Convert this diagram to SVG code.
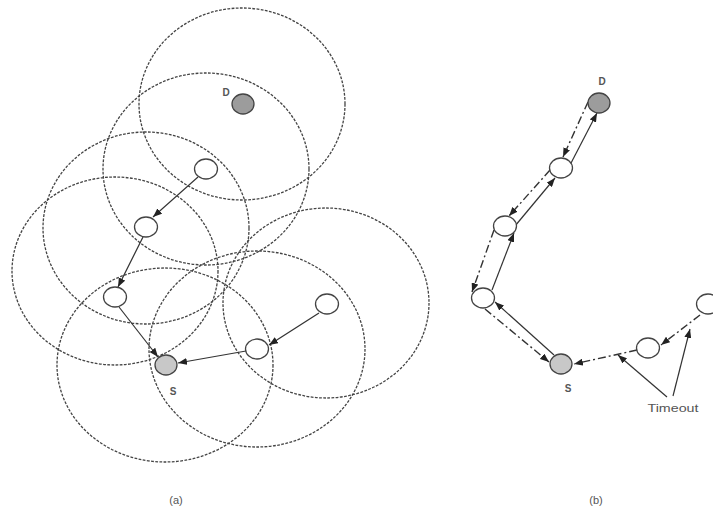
<svg xmlns="http://www.w3.org/2000/svg" width="713" height="508" viewBox="0 0 713 508">
<style>
.range{fill:none;stroke:#444;stroke-width:1.3;stroke-dasharray:2.8,1.4}
.node{fill:#fff;stroke:#444;stroke-width:1.3}
.dst{fill:#9c9c9c;stroke:#444;stroke-width:1.3}
.src{fill:#c8c8c8;stroke:#444;stroke-width:1.3}
.solid{fill:none;stroke:#333;stroke-width:1.2}
.dd{fill:none;stroke:#333;stroke-width:1.4;stroke-dasharray:8,3,2,3}
.lbl{font-family:"Liberation Sans",Arial,sans-serif;fill:#555;text-anchor:middle}
</style>
<defs>
<marker id="ah" markerWidth="9" markerHeight="7" refX="9" refY="3.5" orient="auto" markerUnits="userSpaceOnUse">
<path d="M0,0 L9,3.5 L0,7 Z" fill="#222"/>
</marker>
</defs>
<rect width="713" height="508" fill="#fff"/>
<g id="ranges">
<ellipse class="range" cx="242" cy="104" rx="103" ry="96"/>
<ellipse class="range" cx="206" cy="169" rx="103" ry="96"/>
<ellipse class="range" cx="146" cy="228" rx="103" ry="96"/>
<ellipse class="range" cx="115" cy="271" rx="103" ry="94"/>
<ellipse class="range" cx="165" cy="365" rx="108" ry="97"/>
<ellipse class="range" cx="257" cy="349" rx="108" ry="98"/>
<ellipse class="range" cx="326" cy="303" rx="103" ry="95"/>
</g>
<g id="connectors">
<line class="solid" x1="198" y1="177" x2="153" y2="217" marker-end="url(#ah)"/>
<line class="solid" x1="143" y1="237" x2="118" y2="287" marker-end="url(#ah)"/>
<line class="solid" x1="119" y1="307" x2="158" y2="357" marker-end="url(#ah)"/>
<line class="solid" x1="246" y1="351" x2="178" y2="363" marker-end="url(#ah)"/>
<line class="solid" x1="319" y1="313" x2="269" y2="345" marker-end="url(#ah)"/>
<line class="solid" x1="554" y1="355" x2="495" y2="302" marker-end="url(#ah)"/>
<line class="solid" x1="492" y1="290" x2="514" y2="233" marker-end="url(#ah)"/>
<line class="solid" x1="515" y1="226" x2="555" y2="178" marker-end="url(#ah)"/>
<line class="solid" x1="570" y1="165" x2="597" y2="113" marker-end="url(#ah)"/>
<line class="dd" x1="588" y1="102" x2="563" y2="157" marker-end="url(#ah)"/>
<line class="dd" x1="550" y1="170" x2="509" y2="216" marker-end="url(#ah)"/>
<line class="dd" x1="494" y1="230" x2="472" y2="292" marker-end="url(#ah)"/>
<line class="dd" x1="485" y1="309" x2="549" y2="362" marker-end="url(#ah)"/>
<line class="dd" x1="637" y1="350" x2="574" y2="364" marker-end="url(#ah)"/>
<line class="dd" x1="700" y1="315" x2="661" y2="345" marker-end="url(#ah)"/>
<line class="solid" x1="667" y1="397" x2="618" y2="355" marker-end="url(#ah)"/>
<line class="solid" x1="673" y1="396" x2="690" y2="329" marker-end="url(#ah)"/>
</g>
<g id="a-D"><ellipse class="dst" cx="243" cy="104" rx="11" ry="10"/><text class="lbl" x="226" y="96" font-size="10" font-weight="bold">D</text></g>
<g id="a-n1"><ellipse class="node" cx="206" cy="169" rx="11.5" ry="10"/></g>
<g id="a-n2"><ellipse class="node" cx="146" cy="227" rx="11.5" ry="10"/></g>
<g id="a-n3"><ellipse class="node" cx="115" cy="297" rx="11.5" ry="10"/></g>
<g id="a-S"><ellipse class="src" cx="166" cy="365" rx="11" ry="10"/><text class="lbl" x="173" y="395" font-size="10" font-weight="bold">S</text></g>
<g id="a-n4"><ellipse class="node" cx="257" cy="349" rx="11.5" ry="10"/></g>
<g id="a-n5"><ellipse class="node" cx="327" cy="304" rx="11.5" ry="10"/></g>
<g id="b-D"><ellipse class="dst" cx="599" cy="103" rx="11" ry="10"/><text class="lbl" x="602" y="85" font-size="10" font-weight="bold">D</text></g>
<g id="b-n1"><ellipse class="node" cx="561" cy="168" rx="11.5" ry="10"/></g>
<g id="b-n2"><ellipse class="node" cx="505" cy="226" rx="11.5" ry="10"/></g>
<g id="b-n3"><ellipse class="node" cx="483" cy="298" rx="11.5" ry="10"/></g>
<g id="b-S"><ellipse class="src" cx="561" cy="364" rx="11" ry="10"/><text class="lbl" x="568" y="392" font-size="10" font-weight="bold">S</text></g>
<g id="b-n4"><ellipse class="node" cx="648" cy="348" rx="11.5" ry="10"/></g>
<g id="b-n5"><ellipse class="node" cx="708" cy="304" rx="11.5" ry="10"/></g>
<g id="timeout"><text class="lbl" x="673" y="412" font-size="11" textLength="51" lengthAdjust="spacingAndGlyphs">Timeout</text></g>
<g id="captions">
<text class="lbl" x="176" y="504" font-size="11">(a)</text>
<text class="lbl" x="596" y="504" font-size="11">(b)</text>
</g>
</svg>
